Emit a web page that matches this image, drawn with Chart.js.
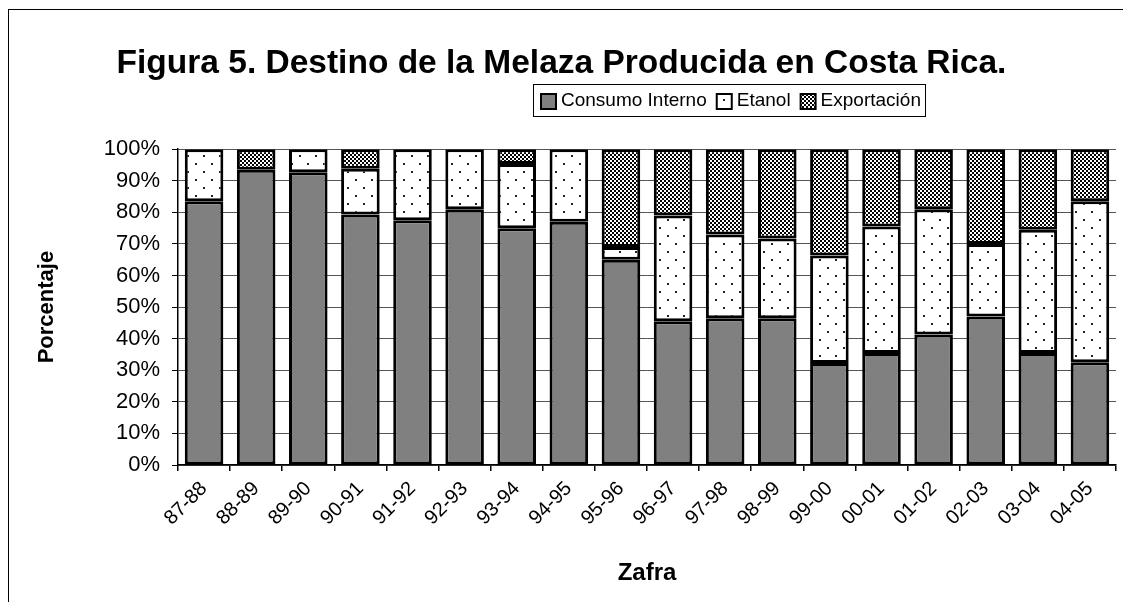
<!DOCTYPE html>
<html lang="es">
<head>
    <meta charset="UTF-8">
    <title>Destino de la Melaza Producida en Costa Rica</title>
    <script src="https://cdn.jsdelivr.net/npm/chart.js"></script>
    <style>
        body{margin:0;background:#fff;}
        .wrap{position:relative;width:1123px;height:602px;overflow:hidden;}
        .frame{position:absolute;left:8px;top:9px;width:1200px;height:700px;border-left:1px solid #000;border-top:1px solid #000;pointer-events:none;}
    </style>
</head>
<body>
    <div class="wrap">
        <canvas id="melazaChart" width="1123" height="602"></canvas>
        <div class="frame"></div>
    </div>
    <script>
        // zafras y porcentajes
        const zafras=['87-88','88-89','89-90','90-91','91-92','92-93','93-94','94-95','95-96','96-97','97-98','98-99','99-00','00-01','01-02','02-03','03-04','04-05'];
        const consumoInterno=[83.5,93.5,92.7,79.3,77.5,81.0,75.0,77.0,65.0,45.5,46.5,46.5,32.3,35.5,41.3,47.0,35.5,32.5];
        const etanol=[16.5,null,7.3,14.5,22.5,19.0,20.3,23.0,4.0,33.5,26.5,25.2,34.0,40.0,39.7,23.0,39.0,51.0];
        const exportacion=[null,6.5,null,6.2,null,null,4.7,null,31.0,21.0,27.0,28.3,33.7,24.5,19.0,30.0,25.5,16.5];
        const yTicks=[0,10,20,30,40,50,60,70,80,90,100];

        const FONT='"Liberation Sans", Arial, sans-serif';
        const ctx=document.getElementById('melazaChart');

        //Tramas de relleno
        function makePattern(size,drawFn){
            const c=document.createElement('canvas');
            c.width=size;c.height=size;
            const g=c.getContext('2d');
            g.fillStyle='#fff';
            g.fillRect(0,0,size,size);
            drawFn(g);
            return ctx.getContext('2d').createPattern(c,'repeat');
        }
        const dots=makePattern(16,g=>{
            g.fillStyle='#222';
            g.fillRect(3,3,2,2);
            g.fillRect(11,11,2,2);
        });
        const checker=makePattern(4,g=>{
            g.fillStyle='#000';
            g.fillRect(0,0,2,2);
            g.fillRect(2,2,2,2);
        });

        //Leyenda con marco
        const boxLegend={
            id:'boxLegend',
            afterDraw(chart){
                const c=chart.ctx;
                const box={x:533,y:84,w:392,h:32};
                c.save();
                c.strokeStyle='#000';
                c.lineWidth=1;
                c.strokeRect(box.x+0.5,box.y+0.5,box.w,box.h);
                c.font='19px '+FONT;
                c.textBaseline='middle';
                let x=box.x+8;
                const cy=box.y+box.h/2+1;
                chart.data.datasets.forEach(ds=>{
                    c.fillStyle=ds.backgroundColor;
                    c.fillRect(x,cy-7,15,15);
                    c.strokeStyle='#000';
                    c.lineWidth=2;
                    c.strokeRect(x,cy-7,15,15);
                    x+=20;
                    c.fillStyle='#000';
                    c.fillText(ds.label,x,cy);
                    x+=c.measureText(ds.label).width+10;
                });
                c.restore();
            }
        };

        const chart=new Chart(ctx,{
            type:'bar',
            data:{
                labels:zafras,
                datasets:[
                    {label:'Consumo Interno',data:consumoInterno,backgroundColor:'#808080'},
                    {label:'Etanol',data:etanol,backgroundColor:dots},
                    {label:'Exportación',data:exportacion,backgroundColor:checker}
                ]
            },
            options:{
                responsive:false,
                animation:false,
                devicePixelRatio:1,
                layout:{padding:{left:7,right:7,top:0,bottom:0}},
                datasets:{
                    bar:{
                        borderColor:'#000',
                        borderWidth:3,
                        borderSkipped:false,
                        barPercentage:0.74,
                        categoryPercentage:1
                    }
                },
                plugins:{
                    legend:{display:false},
                    tooltip:{enabled:false},
                    title:{
                        display:true,
                        text:'Figura 5. Destino de la Melaza Producida en Costa Rica.',
                        color:'#000',
                        font:{family:FONT,size:33.5,weight:'bold'},
                        padding:{top:44,bottom:65}
                    }
                },
                scales:{
                    x:{
                        stacked:true,
                        afterFit(scale){scale.height=137;},
                        border:{color:'#000',width:1.5},
                        grid:{
                            offset:true,
                            drawTicks:true,
                            tickLength:6,
                            tickColor:'#000',
                            color:c=>c.index===zafras.length?'#808080':'rgba(0,0,0,0)',
                            lineWidth:1.5
                        },
                        ticks:{
                            color:'#000',
                            font:{family:FONT,size:20},
                            minRotation:45,
                            maxRotation:45,
                            padding:6
                        },
                        title:{
                            display:true,
                            text:'Zafra',
                            color:'#000',
                            font:{family:FONT,size:24,weight:'bold'},
                            padding:{top:0,bottom:14}
                        }
                    },
                    y:{
                        stacked:true,
                        min:0,
                        max:100,
                        afterFit(scale){scale.width=171;},
                        afterBuildTicks(scale){scale.ticks=yTicks.map(v=>({value:v}));},
                        border:{color:'#000',width:1.5},
                        grid:{
                            color:'#555',
                            lineWidth:1,
                            tickLength:6,
                            tickColor:'#000'
                        },
                        ticks:{
                            color:'#000',
                            font:{family:FONT,size:22},
                            padding:12,
                            callback:v=>v+'%'
                        },
                        title:{
                            display:true,
                            text:'Porcentaje',
                            color:'#000',
                            font:{family:FONT,size:22,weight:'bold'},
                            padding:{top:27,bottom:0}
                        }
                    }
                }
            },
            plugins:[boxLegend]
        });
    </script>
</body>
</html>
